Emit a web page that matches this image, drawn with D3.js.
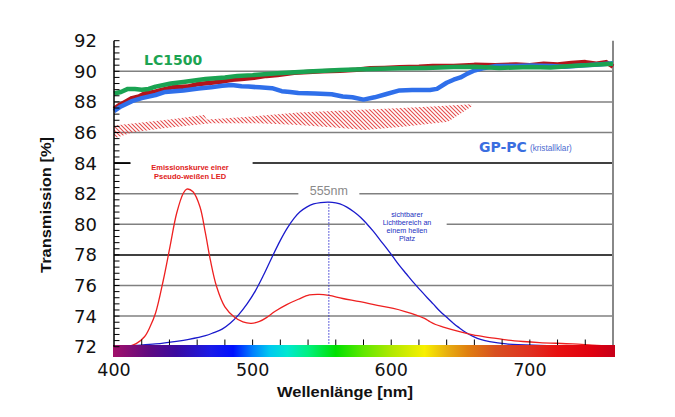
<!DOCTYPE html>
<html><head><meta charset="utf-8">
<script src="https://cdn.jsdelivr.net/npm/d3@7"></script>
<style>body{margin:0;background:#fff}svg{display:block}</style>
</head><body><svg id="c" width="675" height="417"></svg>
<script>
// ---- data ----
const yTicks = [72,74,76,78,80,82,84,86,88,90,92];
const xTicks = [400,500,600,700];
const lc1500 = [[400,88.55],[405,88.65],[410,88.85],[415,88.85],[420,88.8],[425,88.85],[430,89.0],[441,89.2],[450,89.3],[466,89.5],[480,89.6],[489,89.7],[500,89.75],[518,89.87],[540,89.98],[563,90.08],[585,90.15],[606,90.2],[625,90.22],[645,90.28],[660,90.3],[678,90.22],[700,90.28],[715,90.25],[730,90.35],[745,90.42],[760,90.5]];
const refRed = [[400,87.55],[404,87.8],[408,88.0],[413,88.25],[418,88.35],[422,88.55],[429,88.65],[435,88.8],[442,88.95],[453,89.0],[460,89.15],[470,89.25],[477,89.32],[485,89.45],[492,89.5],[501,89.58],[510,89.7],[518,89.76],[530,89.9],[540,89.95],[550,90.0],[563,90.04],[575,90.1],[585,90.2],[595,90.22],[606,90.26],[620,90.3],[630,90.35],[645,90.35],[660,90.42],[675,90.4],[690,90.45],[700,90.4],[710,90.5],[720,90.45],[730,90.55],[740,90.6],[748,90.5],[755,90.6],[760,90.3]];
const gppc = [[400,87.4],[405,87.7],[413,88.05],[420,88.25],[430,88.45],[437,88.65],[450,88.75],[461,88.88],[470,88.95],[478,89.05],[485,89.1],[492,89.02],[497,89.0],[505,88.95],[514,88.9],[521,88.7],[527,88.65],[533,88.58],[545,88.55],[557,88.5],[565,88.35],[572,88.3],[580,88.15],[588,88.3],[596,88.5],[606,88.75],[615,88.78],[628,88.78],[633,88.85],[640,89.25],[645,89.45],[650,89.6],[655,89.85],[660,90.05],[666,90.2],[676,90.35],[690,90.35],[700,90.38],[715,90.35],[725,90.3],[740,90.4],[750,90.45],[760,90.52]];
const hatchTop = [[400,86.45],[420,86.65],[440,86.85],[465,87.15],[467,86.85],[500,87.05],[533,87.3],[570,87.45],[604,87.58],[630,87.7],[658,87.85]];
const hatchBottom = [[400,85.6],[413,86.0],[437,86.3],[470,86.6],[504,86.6],[530,86.5],[557,86.34],[581,86.16],[610,86.4],[641,86.7],[658,87.7]];
const ledEmission = [[410,72.0],[416,72.2],[422,72.65],[426,73.3],[430,74.2],[435.6,76.36],[440.4,78.54],[445.2,80.72],[450,82.03],[452.5,82.3],[457,82.13],[462,81.15],[466,79.4],[469.5,77.67],[474,75.93],[480,74.6],[487,73.92],[493,73.62],[499,73.53],[505,73.65],[510,73.9],[516,74.3],[524.6,74.75],[533,75.1],[541,75.38],[548,75.42],[555,75.35],[565,75.15],[577.5,74.94],[590,74.7],[601.5,74.5],[610,74.3],[618,74.07],[624,73.85],[628,73.63],[632,73.45],[637,73.3],[650,72.97],[659,72.77],[671,72.6],[683,72.44],[695,72.34],[707,72.27],[731,72.18],[745,72.1],[755,72.05],[760,72.03]];
const luminosity = [[402,72.0],[415,72.08],[430,72.18],[445,72.35],[454,72.48],[466,72.72],[472,72.92],[478,73.15],[484,73.55],[490,74.1],[496,74.8],[502,75.65],[508,76.7],[514,77.85],[520,78.95],[525,79.75],[530,80.4],[534,80.8],[539,81.12],[544,81.33],[549,81.42],[555,81.45],[560,81.4],[563,81.33],[568,81.12],[573,80.82],[578,80.45],[582,80.07],[587,79.55],[592,78.97],[597,78.4],[601.5,77.85],[606,77.3],[611,76.75],[616,76.2],[621,75.7],[626,75.2],[630.4,74.78],[635,74.33],[640,73.92],[645,73.52],[648.4,73.28],[653,72.98],[659,72.68],[665,72.46],[671,72.33],[683,72.18],[707,72.09],[731,72.05],[760,72.05]];
const peakWavelength = 555;
const spectrumStops = [[400,"#a0106a"],[425,"#600a80"],[445,"#3a0aa0"],[470,"#1a1ae8"],[486,"#0010ff"],[500,"#0080ff"],[512,"#00c8f0"],[525,"#00e8d0"],[540,"#00f080"],[560,"#00e000"],[580,"#60e800"],[600,"#b0e800"],[624,"#f8f000"],[640,"#e8b010"],[655,"#e08010"],[675,"#d85020"],[700,"#e03020"],[720,"#e81010"],[745,"#e00010"],[760,"#c80018"]];

// ---- chart ----
const svg = d3.select("#c");
const x = d3.scaleLinear().domain([400,760]).range([114,613]);
const y = d3.scaleLinear().domain([72,92]).range([346.7,40.7]);
const defs = svg.append("defs");

const pat = defs.append("pattern").attr("id","hatch").attr("patternUnits","userSpaceOnUse")
  .attr("width",4).attr("height",4);
pat.append("path").attr("d","M-1,-1L5,5M-1,3L1,5M3,-1L5,1").attr("stroke","#e23a3a").attr("stroke-width",1.1);

const gridGaps = {84:[412,500],82:[533,577],80:[581,640]};
const blackLines = [84,78];
yTicks.filter(v=>v>72 && v<92).forEach(v=>{
  const col = blackLines.includes(v) ? "#000" : "#808080";
  const segs = gridGaps[v] ? [[400,gridGaps[v][0]],[gridGaps[v][1],760]] : [[400,760]];
  segs.forEach(s=>{
    svg.append("line").attr("x1",x(s[0])).attr("x2",x(s[1])).attr("y1",y(v)).attr("y2",y(v))
      .attr("stroke",col).attr("stroke-width",1.5);
  });
});
svg.append("line").attr("x1",x(760)).attr("x2",x(760)).attr("y1",y(92)).attr("y2",y(72))
  .attr("stroke","#888").attr("stroke-width",2);

const hatchPath = d3.path();
hatchTop.forEach((d,i)=>{ i? hatchPath.lineTo(x(d[0]),y(d[1])) : hatchPath.moveTo(x(d[0]),y(d[1])); });
hatchBottom.slice().reverse().forEach(d=>hatchPath.lineTo(x(d[0]),y(d[1])));
hatchPath.closePath();
svg.append("path").attr("d",hatchPath.toString()).attr("fill","url(#hatch)").attr("opacity",0.9);

const line = d3.line().x(d=>x(d[0])).y(d=>y(d[1]));
svg.append("path").datum(refRed).attr("d",line).attr("fill","none").attr("stroke","#b3141a").attr("stroke-width",4.5).attr("stroke-linejoin","round");
svg.append("path").datum(gppc).attr("d",line).attr("fill","none").attr("stroke","#2f6fea").attr("stroke-width",4.5).attr("stroke-linejoin","round");
svg.append("path").datum(lc1500).attr("d",line).attr("fill","none").attr("stroke","#1aa352").attr("stroke-width",4.5).attr("stroke-linejoin","round");

const smooth = d3.line().x(d=>x(d[0])).y(d=>y(d[1])).curve(d3.curveCatmullRom.alpha(0.5));
svg.append("path").datum(luminosity).attr("d",smooth).attr("fill","none").attr("stroke","#1a1acc").attr("stroke-width",1.3);
svg.append("path").datum(ledEmission).attr("d",smooth).attr("fill","none").attr("stroke","#ee2020").attr("stroke-width",1.3);

const peakVal = luminosity.find(d=>d[0]===peakWavelength)[1];
svg.append("line").attr("x1",x(peakWavelength)).attr("x2",x(peakWavelength)).attr("y1",y(72)).attr("y2",y(peakVal))
  .attr("stroke","#3030d0").attr("stroke-width",1).attr("stroke-dasharray","1.5,1.5");

const grad = defs.append("linearGradient").attr("id","spec").attr("gradientUnits","userSpaceOnUse")
  .attr("x1",x(400)).attr("x2",x(760)).attr("y1",0).attr("y2",0);
spectrumStops.forEach(s=>grad.append("stop").attr("offset",(s[0]-400)/360).attr("stop-color",s[1]));
svg.append("rect").attr("x",x(400)-1).attr("y",345).attr("width",x(760)-x(400)+3).attr("height",12).attr("fill","url(#spec)");

svg.append("g").selectAll("line").data(d3.range(420,760,20)).join("line")
  .attr("x1",d=>x(d)).attr("x2",d=>x(d)).attr("y1",345).attr("y2",339.5).attr("stroke","#000").attr("stroke-width",1);

svg.append("line").attr("x1",114).attr("x2",114).attr("y1",y(92)).attr("y2",y(72)).attr("stroke","#000").attr("stroke-width",1.5);
svg.append("g").selectAll("line").data(d3.range(0,51).map(i=>72+i*0.4)).join("line")
  .attr("x1",114).attr("x2",119.5).attr("y1",d=>y(d)).attr("y2",d=>y(d)).attr("stroke","#000").attr("stroke-width",1);
svg.append("line").attr("x1",114).attr("x2",130).attr("y1",y(84)).attr("y2",y(84)).attr("stroke","#000").attr("stroke-width",1.5);

svg.append("g").selectAll("text").data(yTicks).join("text")
  .attr("x",97).attr("y",d=>y(d)).attr("dy","0.36em").attr("text-anchor","end")
  .attr("font-family","DejaVu Sans").attr("font-size",18).attr("fill","#111").text(d=>d);
svg.append("g").selectAll("text").data(xTicks).join("text")
  .attr("x",d=>x(d)).attr("y",376).attr("text-anchor","middle")
  .attr("font-family","DejaVu Sans").attr("font-size",17.5).attr("fill","#111").text(d=>d);

svg.append("text").attr("x",345).attr("y",397).attr("text-anchor","middle")
  .attr("font-family","Liberation Sans, Arial").attr("font-weight","bold").attr("font-size",14.5)
  .attr("textLength",136).attr("lengthAdjust","spacingAndGlyphs").attr("fill","#111").text("Wellenlänge [nm]");
svg.append("text").attr("transform","translate(51,205) rotate(-90)").attr("text-anchor","middle")
  .attr("font-family","Liberation Sans, Arial").attr("font-weight","bold").attr("font-size",14.5)
  .attr("textLength",136).attr("lengthAdjust","spacingAndGlyphs").attr("fill","#111").text("Transmission [%]");

svg.append("text").attr("x",144).attr("y",65).attr("font-family","DejaVu Sans").attr("font-weight","bold")
  .attr("font-size",14).attr("fill","#1ca452").text("LC1500");
svg.append("text").attr("x",479).attr("y",152).attr("font-family","DejaVu Sans").attr("font-weight","bold")
  .attr("font-size",14).attr("fill","#3a6ee0").text("GP-PC");
svg.append("text").attr("x",530).attr("y",151).attr("font-family","Liberation Sans, Arial")
  .attr("font-size",8.2).attr("fill","#4a6ad0").text("(kristallklar)");
[["Emissionskurve einer",170],["Pseudo-weißen LED",179]].forEach(t=>{
  svg.append("text").attr("x",190).attr("y",t[1]).attr("text-anchor","middle").attr("font-family","Liberation Sans, Arial")
    .attr("font-weight","bold").attr("font-size",7.5).attr("fill","#e02020").text(t[0]);
});
svg.append("text").attr("x",x(peakWavelength)).attr("y",195).attr("text-anchor","middle").attr("font-family","Liberation Sans, Arial")
  .attr("font-size",12.5).attr("fill","#8a8a8a").text("555nm");
[["sichtbarer",216.5],["Lichtbereich an",224.5],["einem hellen",232.5],["Platz",240.5]].forEach(t=>{
  svg.append("text").attr("x",407).attr("y",t[1]).attr("text-anchor","middle").attr("font-family","Liberation Sans, Arial")
    .attr("font-size",7.2).attr("fill","#2030c0").text(t[0]);
});
</script></body></html>
